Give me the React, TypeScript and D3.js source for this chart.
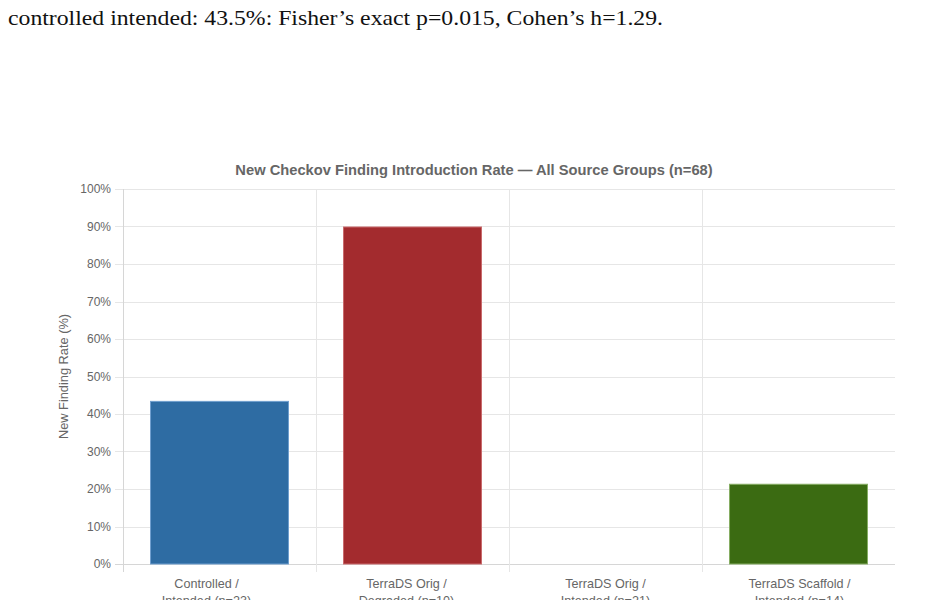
import React, { useEffect, useRef } from "react";
import * as d3 from "d3";

const categories = [
  ["Controlled /", "Intended (n=23)"],
  ["TerraDS Orig /", "Degraded (n=10)"],
  ["TerraDS Orig /", "Intended (n=21)"],
  ["TerraDS Scaffold /", "Intended (n=14)"],
];
const rates = [43.5, 90, 0, 21.4];
const barColors = ["#2e6ca3", "#a32b2e", "#a32b2e", "#3b6b12"];
const barBorders = ["#6f9fcf", "#c96a6c", "#c96a6c", "#86ad63"];
const yTicks = [0, 10, 20, 30, 40, 50, 60, 70, 80, 90, 100];
// small nudges the source chart applied to its category labels
const labelShift = [-13, -6, 0, 1];

const W = 944;
const H = 600;
const margin = { left: 123, right: 49, top: 189, bottom: 36 };
const sans = "'Liberation Sans', Arial, sans-serif";

const App: React.FC = () => {
  const svgRef = useRef<SVGSVGElement | null>(null);

  useEffect(() => {
    if (!svgRef.current) return;
    const svg = d3.select(svgRef.current);
    svg.selectAll("*").remove();

    const x0 = margin.left;
    const x1 = W - margin.right;
    const y0 = H - margin.bottom;
    const y1 = margin.top;

    const x = d3
      .scaleBand<number>()
      .domain(categories.map((_, i) => i))
      .range([x0, x1]);
    const y = d3.scaleLinear().domain([0, 100]).range([y0, y1]);

    // caption line from the page above the chart
    svg
      .append("text")
      .attr("x", 8)
      .attr("y", 25)
      .attr("textLength", 655)
      .attr("lengthAdjust", "spacingAndGlyphs")
      .style("font-family", "'Liberation Serif', serif")
      .style("font-size", "21px")
      .attr("fill", "#111")
      .text("controlled intended: 43.5%: Fisher\u2019s exact p=0.015, Cohen\u2019s h=1.29.");

    svg
      .append("text")
      .attr("x", 474)
      .attr("y", 175)
      .attr("text-anchor", "middle")
      .style("font-family", sans)
      .style("font-size", "14.7px")
      .style("font-weight", "bold")
      .attr("fill", "#666")
      .text("New Checkov Finding Introduction Rate \u2014 All Source Groups (n=68)");

    const grid = svg.append("g");
    grid
      .selectAll(".hg")
      .data(yTicks)
      .enter()
      .append("line")
      .attr("x1", x0 - 8)
      .attr("x2", x1)
      .attr("y1", (d) => Math.round(y(d)) + 0.5)
      .attr("y2", (d) => Math.round(y(d)) + 0.5)
      .attr("stroke", (d) => (d === 0 ? "#d6d6d6" : "#e6e6e6"))
      .attr("stroke-width", 1);

    // vertical grid at category edges
    const edges = categories.map((_, i) => x(i) as number);
    grid
      .selectAll(".vg")
      .data(edges)
      .enter()
      .append("line")
      .attr("x1", (d) => Math.round(d) + 0.5)
      .attr("x2", (d) => Math.round(d) + 0.5)
      .attr("y1", y1)
      .attr("y2", y0 + 8)
      .attr("stroke", (d, i) => (i === 0 ? "#d6d6d6" : "#e6e6e6"))
      .attr("stroke-width", 1);

    svg
      .append("g")
      .selectAll("text")
      .data(yTicks)
      .enter()
      .append("text")
      .attr("x", x0 - 12)
      .attr("y", (d) => y(d) + 4)
      .attr("text-anchor", "end")
      .style("font-family", sans)
      .style("font-size", "12px")
      .attr("fill", "#666")
      .text((d) => `${d}%`);

    svg
      .append("text")
      .attr("transform", `translate(68,${(y0 + y1) / 2}) rotate(-90)`)
      .attr("text-anchor", "middle")
      .style("font-family", sans)
      .style("font-size", "12.8px")
      .attr("fill", "#666")
      .text("New Finding Rate (%)");

    const bw = x.bandwidth() * 0.72;
    svg
      .append("g")
      .selectAll("rect")
      .data(rates.map((v, i) => ({ v, i })).filter((d) => d.v > 0))
      .enter()
      .append("rect")
      .attr("x", (d) => (x(d.i) as number) + (x.bandwidth() - bw) / 2 + 0.5)
      .attr("width", bw - 1)
      .attr("y", (d) => y(d.v) + 0.5)
      .attr("height", (d) => y0 - y(d.v) - 0.5)
      .attr("fill", (d) => barColors[d.i])
      .attr("stroke", (d) => barBorders[d.i])
      .attr("stroke-width", 1);

    const lab = svg
      .append("g")
      .selectAll("text")
      .data(categories)
      .enter()
      .append("text")
      .attr("text-anchor", "middle")
      .style("font-family", sans)
      .style("font-size", "12.6px")
      .attr("fill", "#666");
    lab
      .selectAll("tspan")
      .data((d, i) => d.map((t) => ({ t, i })))
      .enter()
      .append("tspan")
      .attr("x", (d) => (x(d.i) as number) + x.bandwidth() / 2 + labelShift[d.i])
      .attr("y", (d, j) => 588 + j * 17)
      .text((d) => d.t);
  }, []);

  return (
    <svg
      ref={svgRef}
      width={W}
      height={H}
      style={{ position: "absolute", left: 0, top: 0, background: "#fff" }}
    />
  );
};

export default App;
